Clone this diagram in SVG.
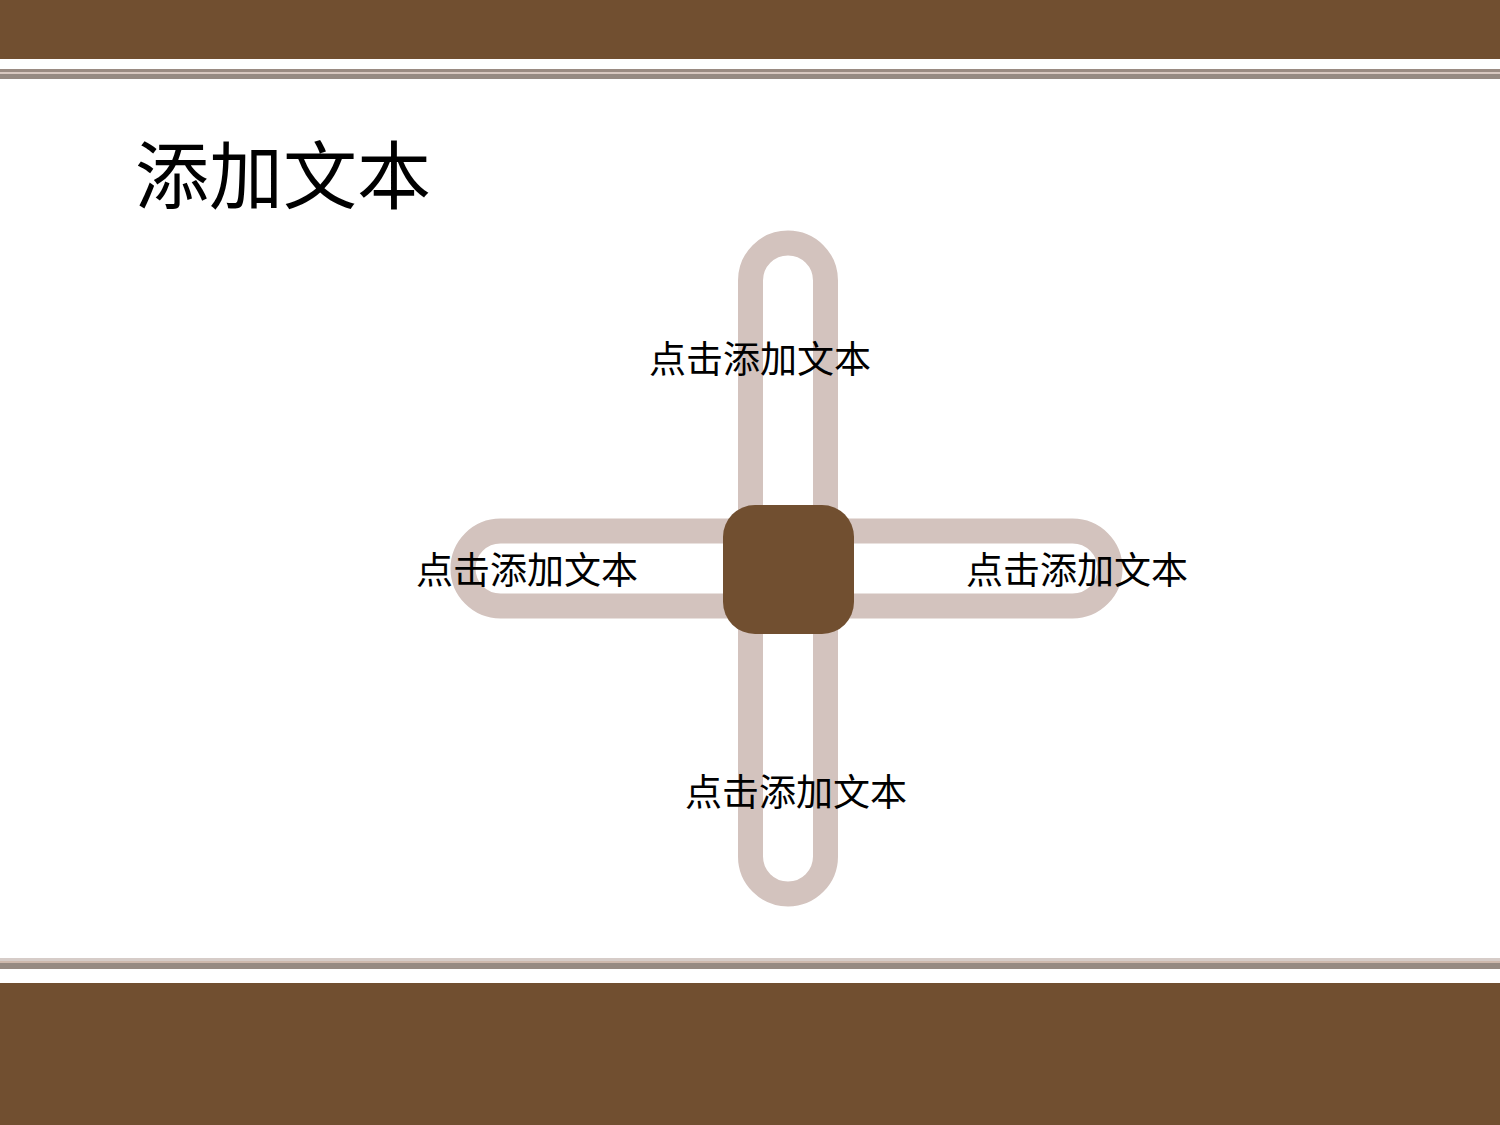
<svg xmlns="http://www.w3.org/2000/svg" width="1500" height="1125" viewBox="0 0 1500 1125">
<style>
.cap{fill:none;stroke:#d3c3be;stroke-width:25}
.lbl{font-family:"Noto Sans CJK SC","Noto Sans",sans-serif;font-size:37px;fill:#000}
.ttl{font-family:"Noto Sans CJK SC","Noto Sans",sans-serif;font-size:74px;fill:#000}
</style>
<rect width="1500" height="1125" fill="#ffffff"/>
<g id="header">
<rect x="0" y="0" width="1500" height="59" fill="#714f30"/>
<rect x="0" y="69" width="1500" height="3" fill="#9a8b82"/>
<rect x="0" y="72" width="1500" height="2" fill="#d8c8c0"/>
<rect x="0" y="74" width="1500" height="5" fill="#968a82"/>
</g>
<g id="footer">
<rect x="0" y="958" width="1500" height="3" fill="#d6ccc8"/>
<rect x="0" y="961" width="1500" height="2" fill="#cdb8ac"/>
<rect x="0" y="963" width="1500" height="6" fill="#968a82"/>
<rect x="0" y="983" width="1500" height="142" fill="#714f30"/>
</g>
<text class="ttl" x="135" y="203">添加文本</text>
<g id="connectors">
<rect class="cap" x="750.5" y="243" width="75" height="651" rx="37.5"/>
<rect class="cap" x="463" y="531" width="647" height="75" rx="37.5"/>
</g>
<g id="center">
<rect x="723" y="505" width="131" height="129" rx="32" fill="#714f30"/>
</g>
<g id="n-top"><text class="lbl" x="760" y="373" text-anchor="middle">点击添加文本</text></g>
<g id="n-left"><text class="lbl" x="527" y="584" text-anchor="middle">点击添加文本</text></g>
<g id="n-right"><text class="lbl" x="1077" y="584" text-anchor="middle">点击添加文本</text></g>
<g id="n-bottom"><text class="lbl" x="796" y="806" text-anchor="middle">点击添加文本</text></g>
</svg>
